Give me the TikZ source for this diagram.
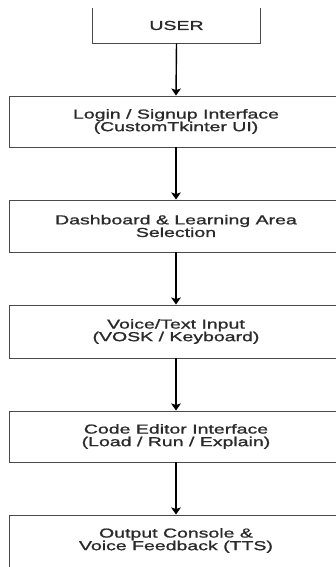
\documentclass[tikz,border=0pt]{standalone}
\usepackage{fontspec}
\newfontfamily\boxfont[FakeStretch=1.5,FakeBold=1.2]{Liberation Sans}
\usetikzlibrary{arrows.meta}
\definecolor{boxline}{HTML}{4A4A4A}
\definecolor{boxtext}{HTML}{2A2A2A}
\begin{document}
\begin{tikzpicture}[x=1pt,y=-1pt,
  stage/.style={draw=boxline, line width=0.9pt, rectangle, minimum width=334pt,
    align=center, text=boxtext, inner sep=0pt,
    font=\boxfont\fontsize{13}{12.6}\selectfont},
  flow/.style={draw=black, line width=1.4pt,
    -{Stealth[width=9.5pt,length=7pt,inset=1.5pt]}}]
\useasboundingbox (0,0) rectangle (335,567);

% entry point: open-topped box
\node[stage, draw=none, minimum width=167pt, minimum height=35pt] (user) at (176.5,25.5) {USER};
\draw[boxline, line width=0.9pt] (user.north west) -- (user.south west) -- (user.south east) -- (user.north east);

\node[stage, minimum height=51pt] (login) at (176,121.5) {Login / Signup Interface\\(CustomTkinter UI)};
\node[stage, minimum height=52pt] (dash) at (176,226) {Dashboard \& Learning Area\\Selection};
\node[stage, minimum height=53pt] (input) at (176,331.5) {Voice/Text Input\\(VOSK / Keyboard)};
\node[stage, minimum height=51pt] (editor) at (176,436.5) {Code Editor Interface\\(Load / Run / Explain)};
\node[stage, minimum height=58pt] (output) at (176,544) {};
\node[align=center, text=boxtext, inner sep=0pt, font=\boxfont\fontsize{13}{12.6}\selectfont] (outtext) at (176,540.5) {Output Console \&\\Voice Feedback (TTS)};

\draw[flow] (user.south) -- (login.north);
\draw[flow] (login.south) -- (dash.north);
\draw[flow] (dash.south) -- (input.north);
\draw[flow] (input.south) -- (editor.north);
\draw[flow] (editor.south) -- (output.north);
\end{tikzpicture}
\end{document}
